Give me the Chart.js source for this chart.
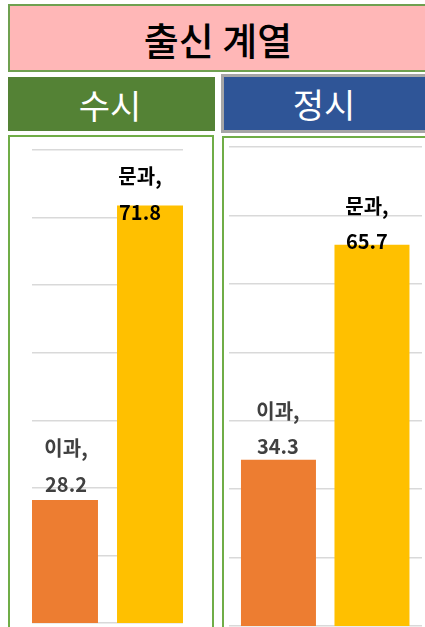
<!DOCTYPE html>
<html><head><meta charset="utf-8">
<script src="https://cdn.jsdelivr.net/npm/chart.js@4/dist/chart.umd.min.js"></script>
<style>
html,body{margin:0;padding:0;width:425px;height:627px;overflow:hidden;background:#fff;font-family:"Noto Sans CJK KR","Noto Sans",sans-serif;}
.box{position:absolute;box-sizing:border-box;display:flex;align-items:center;justify-content:center;}
#title{left:8px;top:4px;width:420px;height:68px;background:#FFB7B7;border:2px solid #6FA050;font-size:38px;font-weight:500;color:#000;}
#h1{left:8px;top:77px;width:207px;height:54px;background:#548235;color:#fff;font-size:34px;font-weight:400;padding-right:3px;}
#h2{left:221px;top:74px;width:214px;height:59px;background:#2F5597;border:3px solid #A6A6A6;color:#fff;font-size:34px;font-weight:400;padding-right:8px;}
#p1{position:absolute;box-sizing:border-box;left:8px;top:135px;width:206px;height:520px;border:2px solid #70AD47;}
#p2{position:absolute;box-sizing:border-box;left:222px;top:136px;width:220px;height:520px;border:2px solid #70AD47;}
.cv{position:absolute;}
</style>
</head>
<body>
<div id="title" class="box">출신 계열</div>
<div id="h1" class="box">수시</div>
<div id="h2" class="box">정시</div>
<div id="p1"></div>
<div id="p2"></div>
<div class="cv" style="left:10px;top:137px;width:202px;height:490px;"><canvas id="c1"></canvas></div>
<div class="cv" style="left:224px;top:138px;width:201px;height:489px;"><canvas id="c2"></canvas></div>
<script>
// ---- data ----
const categories = ['이과', '문과'];
const susiValues = [28.2, 71.8];
const jeongsiValues = [34.3, 65.7];
const yAxisMin = 10;
const yAxisMax = 80;
const yAxisStep = 10;

const barColors = ['#ED7D31', '#FFC000'];
const labelColors = ['#404040', '#000000'];

const labelPlugin = {
  id: 'barLabels',
  afterDatasetsDraw(chart, args, opts) {
    const ctx = chart.ctx;
    const meta = chart.getDatasetMeta(0);
    const ds = chart.data.datasets[0];
    meta.data.forEach((bar, i) => {
      const off = opts.offsets[i];
      ctx.save();
      ctx.font = 'bold 20px "Noto Sans CJK KR", "Noto Sans", sans-serif';
      ctx.fillStyle = labelColors[i];
      ctx.textAlign = 'center';
      ctx.textBaseline = 'middle';
      ctx.fillText(categories[i] + ',', bar.x + off[0], bar.y + off[1]);
      ctx.fillText(ds.data[i].y.toFixed(1), bar.x + off[0], bar.y + off[1] + opts.lineGap);
      ctx.restore();
    });
  }
};

function makeChart(id, values, xMin, xMax, barPct, pad, offsets, lineGap) {
  new Chart(document.getElementById(id), {
    type: 'bar',
    data: {
      labels: categories,
      datasets: [{
        data: values.map((v, i) => ({ x: i, y: v })),
        backgroundColor: barColors,
        borderWidth: 0,
        categoryPercentage: 1,
        barPercentage: barPct
      }]
    },
    options: {
      responsive: true,
      maintainAspectRatio: false,
      animation: false,
      layout: { padding: pad },
      plugins: {
        legend: { display: false },
        tooltip: { enabled: false },
        barLabels: { offsets: offsets, lineGap: lineGap }
      },
      scales: {
        x: { type: 'linear', display: false, offset: false, min: xMin, max: xMax },
        y: {
          min: yAxisMin, max: yAxisMax,
          ticks: { display: false, stepSize: yAxisStep },
          border: { display: false },
          grid: { color: '#D9D9D9', lineWidth: 1.5, drawTicks: false }
        }
      }
    },
    plugins: [labelPlugin]
  });
}

makeChart('c1', susiValues, -0.388, 1.388, 0.776,
  { left: 22, right: 29, top: 13, bottom: 4 },
  [[1, -52], [-10, -29]], 36);
makeChart('c2', jeongsiValues, -0.529, 1.535, 0.802,
  { left: 5, right: 3, top: 9, bottom: 1 },
  [[-0.5, -48], [-5, -38]], 35);
</script>
</body></html>
